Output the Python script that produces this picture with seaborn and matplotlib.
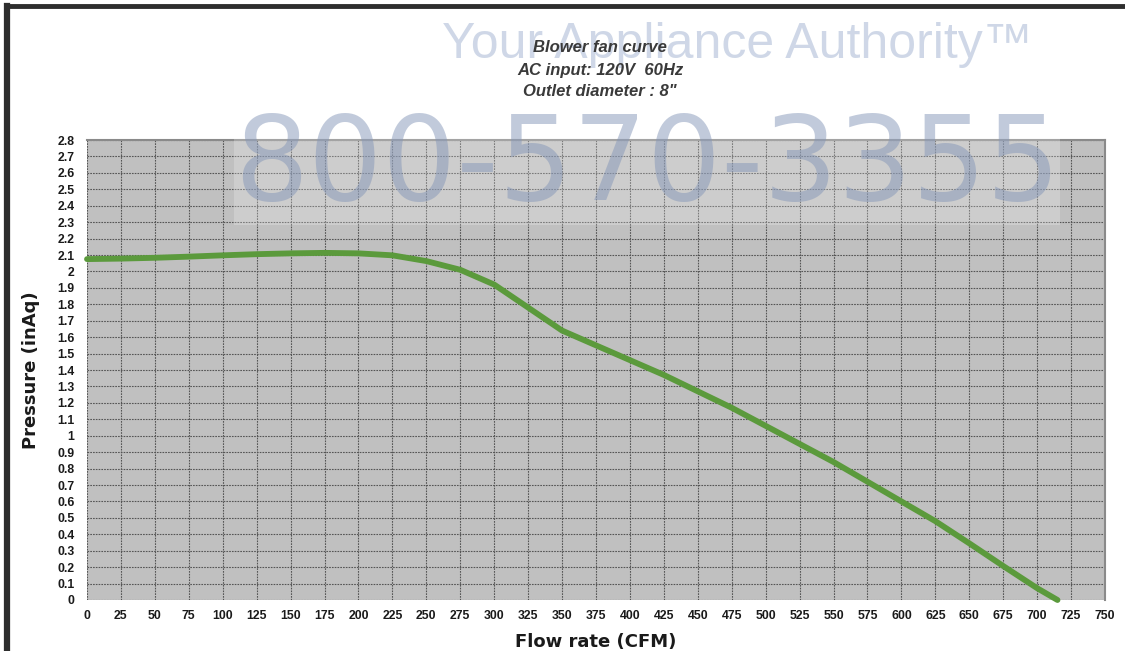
import matplotlib
matplotlib.use("Agg")
import matplotlib.pyplot as plt
import seaborn as sns
import pandas as pd
from matplotlib.lines import Line2D

# ---- data ----
flow_cfm = [0, 25, 50, 75, 100, 125, 150, 175, 200, 225, 250, 275, 300, 325, 350,
            375, 400, 425, 450, 475, 500, 525, 550, 575, 600, 625, 650, 675, 700, 715]
pressure_inaq = [2.075, 2.078, 2.083, 2.090, 2.098, 2.105, 2.110, 2.113, 2.110, 2.098,
                 2.063, 2.010, 1.920, 1.780, 1.640, 1.550, 1.460, 1.370, 1.270, 1.170,
                 1.060, 0.950, 0.840, 0.720, 0.600, 0.480, 0.345, 0.207, 0.072, 0.0]
x_ticks = list(range(0, 751, 25))
y_ticks = [round(i * 0.1, 1) for i in range(0, 29)]
y_tick_labels = [("%g" % v) for v in y_ticks]

title_lines = ["Blower fan curve", "AC input: 120V  60Hz", "Outlet diameter : 8\""]
x_label = "Flow rate (CFM)"
y_label = "Pressure (inAq)"
watermark_phone = "800-570-3355"
watermark_tag = "Your Appliance Authority\u2122"

df = pd.DataFrame({"flow": flow_cfm, "pressure": pressure_inaq})

sns.set_theme(style="white")
plt.rcParams["font.family"] = ["Liberation Sans", "DejaVu Sans"]

W, H = 1125, 651
fig = plt.figure(figsize=(W / 100, H / 100), dpi=100)
fig.patch.set_facecolor("white")
ax = fig.add_axes([87 / W, (H - 600) / H, (1105 - 87) / W, (600 - 140) / H])
ax.set_facecolor("#c0c0c0")

sns.lineplot(data=df, x="flow", y="pressure", ax=ax, color="#5b9a3c",
             linewidth=4.2, zorder=5)
ax.lines[-1].set_clip_on(False)

ax.set_xlim(0, 750)
ax.set_ylim(0, 2.8)
ax.set_xticks(x_ticks)
ax.set_xticklabels([str(v) for v in x_ticks])
ax.set_yticks(y_ticks)
ax.set_yticklabels(y_tick_labels)
ax.tick_params(axis="both", length=0, labelsize=8.8, colors="#1a1a1a")
ax.tick_params(axis="x", pad=7)
ax.tick_params(axis="y", pad=9)
for lab in ax.get_xticklabels() + ax.get_yticklabels():
    lab.set_fontweight("bold")
ax.grid(True, color="#555555", linestyle=(0, (1.5, 1)), linewidth=0.8)
ax.set_axisbelow(True)

for s in ["left", "bottom"]:
    ax.spines[s].set_visible(False)
for s in ["top", "right"]:
    ax.spines[s].set_color("#8a8a8a")
    ax.spines[s].set_linewidth(1.5)

ax.set_xlabel(x_label, fontsize=13, fontweight="bold", family="DejaVu Sans",
              color="#1a1a1a", labelpad=8)
ax.set_ylabel(y_label, fontsize=13, fontweight="bold", family="DejaVu Sans",
              color="#1a1a1a", labelpad=12)

# watermark (drawn behind the title)
fig.text(737 / W, 1 - 45 / H, watermark_tag, ha="center", va="center",
         fontsize=36, color="#c3cee1", alpha=0.8, zorder=1,
         family="Liberation Sans")
fig.text(647 / W, 1 - 200 / H, watermark_phone, ha="center", va="baseline",
         fontsize=84, color="#8496b8", alpha=0.5, zorder=20,
         family="DejaVu Sans",
         bbox=dict(facecolor="white", alpha=0.22, edgecolor="none", pad=0))

# title lines
for line, yy in zip(title_lines, [48, 70, 91]):
    fig.text(600 / W, 1 - yy / H, line, ha="center", va="center", fontsize=12,
             fontweight="bold", style="italic",
             family=["Liberation Sans Narrow", "Liberation Sans", "DejaVu Sans"],
             color="#3a3a3a", zorder=30)

# outer frame (left and top)
fig.add_artist(Line2D([7 / W, 7 / W], [0, 1 - 6 / H], color="#2e2e2e",
                      linewidth=4.5, transform=fig.transFigure, solid_capstyle="projecting"))
fig.add_artist(Line2D([7 / W, 1], [1 - 6 / H, 1 - 6 / H], color="#2e2e2e",
                      linewidth=3.5, transform=fig.transFigure, solid_capstyle="projecting"))

fig.savefig("out.png", dpi=100)
